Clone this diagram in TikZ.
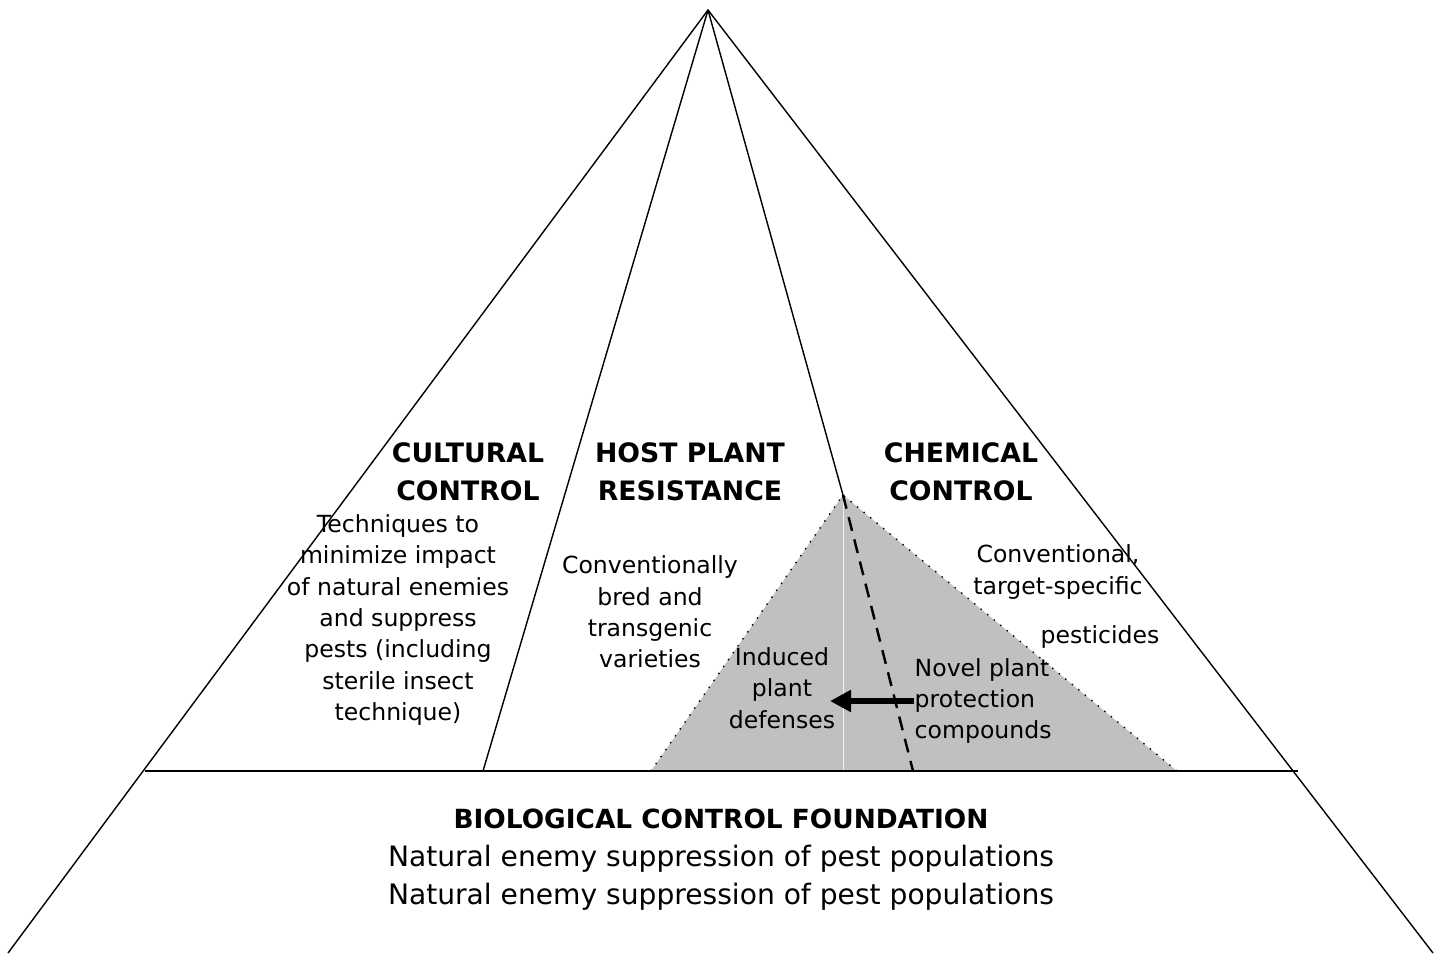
\documentclass[tikz,border=0pt]{standalone}
\usepackage{fontspec}
\setmainfont{DejaVu Sans}
\usetikzlibrary{arrows.meta}
\definecolor{ipmgray}{RGB}{192,192,192}
\tikzset{
  pyrline/.style={draw=black, line width=0.4pt},
  title/.style={font=\fontsize{7.6}{10.8}\selectfont\bfseries, align=center, inner sep=0pt},
  body/.style={font=\fontsize{6.7}{8.9}\selectfont, align=center, inner sep=0pt},
  basetext/.style={font=\fontsize{8.0}{10.8}\selectfont, align=center, inner sep=0pt}
}
\begin{document}
\begin{tikzpicture}[x=0.01cm, y=-0.01cm]
  \useasboundingbox (0,0) rectangle (1442,953);
  % corner points of the pyramid
  \coordinate (apex) at (708,10);
  \coordinate (bl) at (8,953);
  \coordinate (br) at (1433,953);
  \coordinate (basel) at (145,771);
  \coordinate (baser) at (1298,771);
  \coordinate (split) at (483,771);
  \coordinate (gtop) at (843,495);
  \coordinate (gl) at (651,771);
  \coordinate (gr) at (1177,771);
  \coordinate (gmid) at (843,771);
  \coordinate (dashend) at (913,771);

  % shaded wedge
  \fill[ipmgray] (gtop) -- (gl) -- (gr) -- cycle;
  \draw[dotted, line width=0.4pt] (gl) -- (gtop) -- (gr);
  \draw[black!5, line width=0.2pt] (gtop) -- (gmid);
  \draw[line width=0.7pt, dash pattern=on 4pt off 2.5pt] (gtop) -- (dashend);

  % pyramid outline
  \draw[pyrline] (bl) -- (apex) -- (br);
  \draw[pyrline] (basel) -- (baser);
  \draw[pyrline] (apex) -- (split);
  \draw[pyrline] (apex) -- (gtop);

  % section headings
  \node[title] (cult) at (468,472) {CULTURAL\\CONTROL};
  \node[title] (host) at (690,472) {HOST PLANT\\RESISTANCE};
  \node[title] (chem) at (961,472) {CHEMICAL\\CONTROL};

  % section texts
  \node[body] (culttext) at (398,620) {Techniques to\\minimize impact\\of natural enemies\\and suppress\\pests (including\\sterile insect\\technique)};
  \node[body] (hosttext) at (650,612) {Conventionally\\bred and\\transgenic\\varieties};
  \node[body] (chemtext) at (1058,572) {Conventional,\\target-specific};
  \node[body] (pest) at (1100,637) {pesticides};
  \node[body] (induced) at (782,688) {Induced\\plant\\defenses};
  \node[body, align=left, anchor=west] (novel) at (914,701) {Novel plant\\protection\\compounds};
  \draw[-{Triangle[length=6pt, width=6pt]}, line width=1.6pt] (novel.west) -- (830,701);

  % foundation
  \node[basetext] (bio) at (721,860) {{\fontsize{7.5}{10.8}\selectfont\bfseries BIOLOGICAL CONTROL FOUNDATION}\\Natural enemy suppression of pest populations\\Natural enemy suppression of pest populations};
\end{tikzpicture}
\end{document}
